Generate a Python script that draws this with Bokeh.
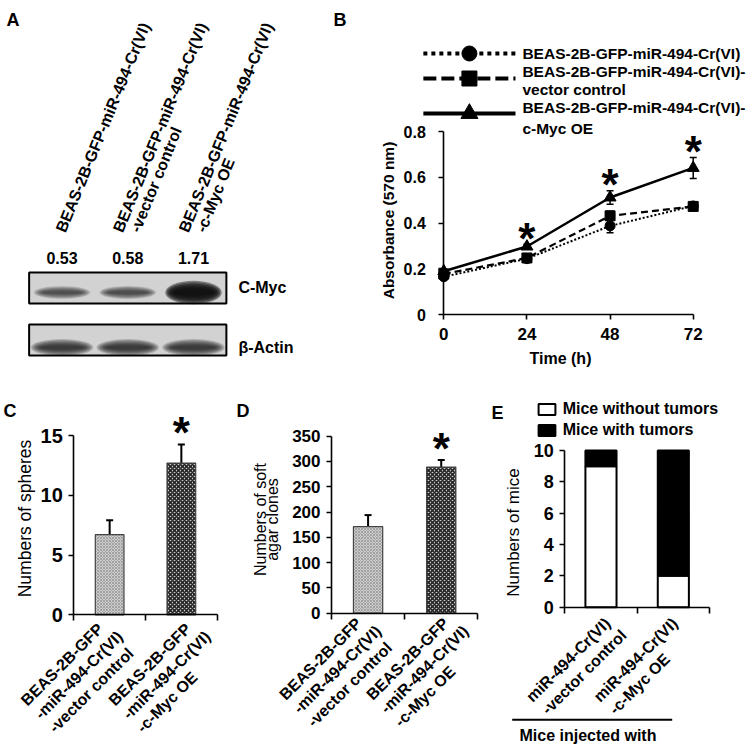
import math
from bokeh.plotting import figure
from bokeh.models import (Range1d, Label, FixedTicker, Whisker, TeeHead, Legend,
                          LegendItem, ColumnDataSource)
from bokeh.layouts import row, column
from bokeh.embed import file_html
from bokeh.resources import INLINE
from bokeh.core.properties import value

FONT = "Liberation Sans"

# ------------------------------------------------------------------ data
blot_lanes = ["BEAS-2B-GFP-miR-494-Cr(VI)",
              "BEAS-2B-GFP-miR-494-Cr(VI)\n-vector control",
              "BEAS-2B-GFP-miR-494-Cr(VI)\n-c-Myc OE"]
cmyc_ratio = [0.53, 0.58, 1.71]
actin_level = [1.0, 1.0, 1.0]
blot_rows = ["C-Myc", "\u03b2-Actin"]

time_h = [0, 24, 48, 72]
abs_mir = [0.166, 0.245, 0.388, 0.475]
abs_mir_err = [0.010, 0.010, 0.030, 0.010]
abs_vec = [0.178, 0.248, 0.432, 0.473]
abs_vec_err = [0.010, 0.010, 0.020, 0.010]
abs_oe = [0.190, 0.298, 0.512, 0.641]
abs_oe_err = [0.010, 0.010, 0.030, 0.046]
abs_sig = ["", "*", "*", "*"]
series_names = ["BEAS-2B-GFP-miR-494-Cr(VI)",
                "BEAS-2B-GFP-miR-494-Cr(VI)-\nvector control",
                "BEAS-2B-GFP-miR-494-Cr(VI)-\nc-Myc OE"]

groups = ["BEAS-2B-GFP\n-miR-494-Cr(VI)\n-vector control",
          "BEAS-2B-GFP\n-miR-494-Cr(VI)\n-c-Myc OE"]
spheres = [6.7, 12.7]
spheres_err = [1.2, 1.55]
spheres_sig = ["", "*"]
clones = [171, 289]
clones_err = [23, 14]
clones_sig = ["", "*"]

mice_groups = ["miR-494-Cr(VI)\n-vector control", "miR-494-Cr(VI)\n-c-Myc OE"]
mice_without = [9, 2]
mice_with = [1, 8]
mice_stack_names = ["Mice without tumors", "Mice with tumors"]


# ------------------------------------------------------------------ helpers
def panel(w, h, x0_px, x_px, y0_px, y_px):
    """Figure whose frame fills it; data 0 sits at pixel (x0_px, y0_px) from top-left."""
    xr = Range1d(-x0_px / x_px, (w - x0_px) / x_px)
    yr = Range1d((y0_px - h) / y_px, y0_px / y_px)
    p = figure(width=w, height=h, x_range=xr, y_range=yr, output_backend="svg",
               toolbar_location=None, min_border=0)
    p.grid.visible = False
    p.outline_line_color = None
    p.background_fill_color = "white"
    p.border_fill_color = "white"
    for ax in p.axis:
        ax.fixed_location = 0
    return p


def style_axis(ax, size, standoff):
    ax.axis_line_color = "black"
    ax.axis_line_width = 1.6
    ax.major_tick_line_color = "black"
    ax.major_tick_line_width = 1.6
    ax.major_tick_in = 0
    ax.major_tick_out = 5
    ax.minor_tick_line_color = None
    ax.major_label_text_font = FONT
    ax.major_label_text_font_style = "bold"
    ax.major_label_text_font_size = size
    ax.major_label_text_color = "black"
    ax.major_label_standoff = standoff


def cat_x_axis(p, n):
    ax = p.xaxis[0]
    ax.ticker = FixedTicker(ticks=[], minor_ticks=list(range(n + 1)))
    ax.bounds = (0, n)
    ax.axis_line_color = "black"
    ax.axis_line_width = 1.6
    ax.major_tick_line_color = None
    ax.minor_tick_line_color = "black"
    ax.minor_tick_line_width = 1.6
    ax.minor_tick_in = 0
    ax.minor_tick_out = 6
    ax.major_label_text_font_size = "0px"


def put(p, text, sx, sy, size, bold=True, angle=0.0, align="left", baseline="alphabetic"):
    p.add_layout(Label(x=sx, y=p.height - sy, x_units="screen", y_units="screen", text=text,
                       angle=angle, text_align=align, text_baseline=baseline,
                       text_font=FONT, text_font_size=size,
                       text_font_style="bold" if bold else "normal", text_color="black"))


def cat_labels(p, names, dxs, dy0, size, step=(14.0, 13.5)):
    for i, name in enumerate(names):
        for k, line in enumerate(name.split("\n")):
            p.add_layout(Label(x=i + 0.5, y=0, text=line, angle=math.pi / 4,
                               text_align="left", text_baseline="alphabetic",
                               x_offset=dxs[i] + k * step[0], y_offset=-(dy0 + k * step[1]),
                               text_font=FONT, text_font_size=size, text_font_style="bold",
                               text_color="black"))


# ================================================================== A : blot
WA, HA = 330, 368
LANE_PX = 65.75
lane_x = [i + 1 for i in range(len(blot_lanes))]
nl = len(lane_x)
pA = figure(width=WA, height=HA, output_backend="svg", toolbar_location=None, min_border=0,
            x_range=Range1d(1 - 61.5 / LANE_PX, 1 + (WA - 61.5) / LANE_PX),
            y_range=Range1d(0, HA), x_axis_location=None, y_axis_location=None)
pA.grid.visible = False
pA.outline_line_color = None


def ya(fy):
    return HA - fy


strip_top = [272, 324]
strip_bot = [303, 355]
pA.quad(left=[0.5] * 2, right=[nl + 0.5] * 2, top=[ya(t) for t in strip_top],
        bottom=[ya(b) for b in strip_bot], fill_color="#d2d2d2", line_color=None)


def bands(levels, cy, base_h, gain_h, width, a0, a1):
    for k in range(7):
        f = k / 6
        pA.ellipse(x=lane_x, y=[ya(cy)] * nl, width=[width * (1 - 0.3 * f)] * nl,
                   height=[(base_h + gain_h * v) * (1 - 0.75 * f) for v in levels],
                   fill_color="#111111", fill_alpha=[a0 + a1 * v for v in levels],
                   line_color=None)


bands(cmyc_ratio, 292, 8, 9, 0.86, 0.0055, 0.254)
bands(actin_level, 347, 17, 0, 0.95, 0.19, 0.0)
pA.quad(left=[0.5] * 2, right=[nl + 0.5] * 2, top=[ya(t) for t in strip_top],
        bottom=[ya(b) for b in strip_bot], fill_color=None, line_color="black", line_width=2)

pA.text(x=lane_x, y=[ya(257)] * nl, text=[f"{v:.2f}" for v in cmyc_ratio],
        text_font=value(FONT), text_font_style="bold", text_font_size="16px",
        text_align="center", text_baseline="middle", text_color="black")
pA.text(x=[nl + 0.5] * 2, y=[ya(287), ya(347)], text=blot_rows, x_offset=12,
        text_font=value(FONT), text_font_style="bold", text_font_size="16px",
        text_align="left", text_baseline="middle", text_color="black")

lx, ly, lt, lxo = [], [], [], []
for i, name in enumerate(blot_lanes):
    parts = name.split("\n")
    n = len(parts)
    for k, line in enumerate(parts):
        c = k - (n - 1) / 2
        lx.append(lane_x[i])
        lxo.append(-1.5 + c * 17)
        ly.append(ya(231))
        lt.append(line)
pA.text(x=lx, y=ly, text=lt, x_offset=lxo, angle=math.radians(67.8),
        text_font=value(FONT), text_font_style="bold", text_font_size="16px",
        text_align="left", text_baseline="alphabetic", text_color="black")
put(pA, "A", 6, 19, "18px")

# ================================================================== B : growth
WB, HB = 424, 368
B_PXH = 249.4 / 72
B_PXY = 229.1
pB = panel(WB, HB, 113.3, B_PXH, 314.3, B_PXY)
style_axis(pB.xaxis[0], "17px", 8)
style_axis(pB.yaxis[0], "16px", 13)
pB.xaxis.ticker = FixedTicker(ticks=time_h)
pB.xaxis.bounds = (0, 72)
pB.yaxis.ticker = FixedTicker(ticks=[0, 0.2, 0.4, 0.6, 0.8])
pB.yaxis.bounds = (0, 0.8)
pB.yaxis.major_label_overrides = {0: "0"}


def yb(ry):
    return (314.3 - ry) / B_PXY


series = [
    (abs_mir, abs_mir_err, "2 2", 2.0, "circle", 10, "4 4", 15),
    (abs_vec, abs_vec_err, "7 4", 2.2, "square", 10, "13 5", 15),
    (abs_oe, abs_oe_err, "solid", 2.5, "triangle", 12, "solid", 17),
]
for vals, errs, dash, lw, mk, ms, _, _ in series:
    pB.line(time_h, vals, line_dash=dash, line_width=lw, line_color="black")
    src = ColumnDataSource(dict(x=time_h, upper=[v + e for v, e in zip(vals, errs)],
                                lower=[v - e for v, e in zip(vals, errs)]))
    pB.add_layout(Whisker(source=src, base="x", upper="upper", lower="lower",
                          line_color="black", line_width=1.5,
                          upper_head=TeeHead(size=7, line_width=1.5, line_color="black"),
                          lower_head=TeeHead(size=7, line_width=1.5, line_color="black")))
for vals, errs, dash, lw, mk, ms, _, _ in series:
    pB.scatter(time_h, vals, marker=mk, size=ms, fill_color="black", line_color="black")

pB.text(x=time_h, y=[v + e for v, e in zip(abs_oe, abs_oe_err)], text=abs_sig, y_offset=-6,
        text_font=value(FONT), text_font_style="bold", text_font_size="44px",
        text_align="center", text_baseline="alphabetic", text_color="black")

# legend
leg_x0, leg_x1, leg_mid, leg_tx = -5.9, 20.7, 7.4, 22.7
leg_row_y = [53, 78, 113]
leg_text_y = [[53], [71, 89], [107, 128]]
for (vals, errs, dash, lw, mk, ms, ldash, lms), ry, tys, name in zip(series, leg_row_y, leg_text_y, series_names):
    pB.line([leg_x0, leg_x1], [yb(ry), yb(ry)], line_dash=ldash, line_width=4, line_color="black")
    pB.scatter([leg_mid], [yb(ry)], marker=mk, size=lms, fill_color="black", line_color="black")
    pB.text(x=[leg_tx] * len(tys), y=[yb(t) for t in tys], text=name.split("\n"),
            text_font=value(FONT), text_font_style="bold", text_font_size="15.5px",
            text_align="left", text_baseline="middle", text_color="black")

put(pB, "Absorbance (570 nm)", 388 - 330, 220, "15.5px", angle=math.pi / 2,
    align="center", baseline="middle")
put(pB, "Time (h)", 560 - 330, 358, "16px", align="center", baseline="middle")
put(pB, "B", 3, 19, "18px")


# ================================================================== bar panels
def bar_panel(w, h, x0_px, cat_px, y0_px, y_px, vals, errs, sig, ticks, tick_size,
              ylabel_lines, ylabel_x, ylabel_y, ylabel_size, letter, letter_x,
              lab_dxs, lab_dy, star_off):
    p = panel(w, h, x0_px, cat_px, y0_px, y_px)
    style_axis(p.yaxis[0], tick_size, 6)
    p.yaxis.ticker = FixedTicker(ticks=ticks)
    p.yaxis.bounds = (0, ticks[-1])
    cat_x_axis(p, len(vals))
    xs = [i + 0.5 for i in range(len(vals))]
    src = ColumnDataSource(dict(x=xs, top=vals,
                                upper=[v + e for v, e in zip(vals, errs)],
                                fill=["#cdcdcd", "#d0d0d0"],
                                hcol=["#8e8e8e", "#262626"],
                                hscale=[3.0, 4.0], hweight=[0.7, 1.6]))
    p.vbar(x="x", top="top", width=0.4, source=src, fill_color="fill",
           hatch_pattern="diagonal_cross", hatch_color="hcol", hatch_scale="hscale",
           hatch_weight="hweight", line_color="#444444", line_width=1.2)
    p.add_layout(Whisker(source=src, base="x", upper="upper", lower="top",
                         line_color="black", line_width=2,
                         upper_head=TeeHead(size=7, line_width=2, line_color="black"),
                         lower_head=None))
    p.text(x=xs, y=src.data["upper"], text=sig, y_offset=star_off,
           text_font=value(FONT), text_font_style="bold", text_font_size="44px",
           text_align="center", text_baseline="alphabetic", text_color="black")
    cat_labels(p, groups, lab_dxs, lab_dy, "16px")
    n = len(ylabel_lines)
    for k, line in enumerate(ylabel_lines):
        put(p, line, ylabel_x + (k - (n - 1) / 2) * 12.5, ylabel_y, ylabel_size,
            bold=False, angle=math.pi / 2, align="center", baseline="middle")
    put(p, letter, letter_x, 410 - 368, "18px")
    return p


pC = bar_panel(234, 377, 73.3, 71.7, 614.3 - 368, 179.3 / 15, spheres, spheres_err,
               spheres_sig, [0, 5, 10, 15], "20px", ["Numbers of spheres"], 24, 518 - 368,
               "17.5px", "C", 3, [-86, -70], 88, -12)
pD = bar_panel(256, 377, 331 - 234, 73.15, 612.7 - 368, 177 / 350, clones, clones_err,
               clones_sig, list(range(0, 351, 50)), "17px", ["Numbers of soft", "agar clones"],
               266 - 234, 519 - 368, "16px", "D", 2, [-86, -72], 84, -11)

# ================================================================== E : mice
WE, HE = 264, 377
E_CAT = 72.35
E_PXY = 15.67
pE = panel(WE, HE, 564.3 - 490, E_CAT, 606.7 - 368, E_PXY)
style_axis(pE.yaxis[0], "18px", 6)
pE.yaxis.ticker = FixedTicker(ticks=list(range(0, 11, 2)))
pE.yaxis.bounds = (0, 10)
cat_x_axis(pE, len(mice_groups))
esrc = ColumnDataSource(dict(x=[i + 0.5 for i in range(len(mice_groups))],
                             without=mice_without, withT=mice_with))
rs = pE.vbar_stack(["without", "withT"], x="x", width=0.43, source=esrc,
                   fill_color=["white", "black"], line_color="black", line_width=2)
legE = Legend(items=[LegendItem(label=mice_stack_names[0], renderers=[rs[0]]),
                     LegendItem(label=mice_stack_names[1], renderers=[rs[1]])],
              location=(45.7, HE - 31 - 40), glyph_width=21, glyph_height=14,
              label_standoff=6, spacing=2, padding=0, margin=0, border_line_color=None,
              background_fill_alpha=0, label_text_font=FONT, label_text_font_style="bold",
              label_text_font_size="16px", label_text_color="black", label_height=19)
pE.add_layout(legE)
cat_labels(pE, mice_groups, [-72, -77], 92, "16px", step=(15.5, 12.5))
put(pE, "Numbers of mice", 512.5 - 490, 532 - 368, "17px", bold=False,
    angle=math.pi / 2, align="center", baseline="middle")
put(pE, "E", 1, 412 - 368, "18px")


def ye(ry):
    return (606.7 - ry) / E_PXY


def xe(rx):
    return (rx - 564.3) / E_CAT


pE.line([xe(511.7), xe(671.7)], [ye(719.3)] * 2, line_color="black", line_width=2)
pE.text(x=[xe(587.5)], y=[ye(735)], text=["Mice injected with"], text_font=value(FONT),
        text_font_style="bold", text_font_size="16px", text_align="center",
        text_baseline="middle", text_color="black")

layout = column(row(pA, pB), row(pC, pD, pE))
open("out.html", "w").write(file_html(layout, INLINE))
